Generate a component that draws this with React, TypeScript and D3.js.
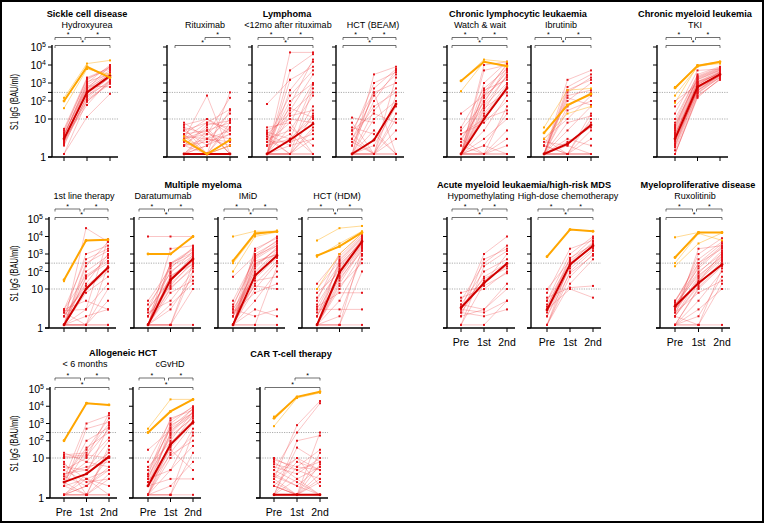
import React from 'react';
import * as d3 from 'd3';

type V = [number | null, number | null, number | null];

const L = 1.2; // below detection limit
const categories = ['Pre', '1st', '2nd'];
const yTickValues = [1, 10, 100, 300, 1000, 10000, 100000];
const thresholds = [10, 300];

// ---------- data (BAU/ml) ----------
const sickleRed: V[] = [[3,300,2500],[2.5,150,1500],[4,500,3000],[3.5,800,5000],[2,200,1200],[5,1500,8000],[2.8,400,3500],[3.2,250,2000],[L,100,900],[L,13,250],[4.5,1800,6000],[2.2,120,1000],[3,600,4000],[3.8,1000,10000],[2.6,350,2800],[5.5,2000,7000],[3.3,90,1200],[2.4,180,2200],[4,700,600],[3,60,1500],[2.9,450,9000],[3.6,1200,3000]];
const sickleOrange: V[] = [[150,12000,18000],[100,7000,2000],[40,6000,3000]];
const sickleMedian: V = [3,300,2500];
const sickleOrangeMedian: V = [100,8000,2000];

const rituxRed: V[] = [[L,L,L],[L,L,2],[2,L,L],[3,5,8],[5,8,6],[2,3,10],[L,2,30],[4,10,5],[8,3,2],[L,L,300],[3,200,L],[L,4,150],[3,L,L],[6,4,3],[2,2.5,4],[L,3,5],[4,L,2],[7,10,4],[2,6,L],[3,8,35],[L,L,3],[5,2,6],[2.5,L,8],[L,5,L],[3.5,3,2.5],[2,7,9],[6,L,L],[L,2,4],[4,5,L],[L,L,6],[3,4,20]];
const rituxOrange: V[] = [[2.8,L,2.8],[3.5,L,2]];
const rituxMedian: V = [L,L,L];
const rituxOrangeMedian: V = [2.8,L,2.8];

const lymphRed: V[] = [[L,50000,50000],[L,1500,8000],[68,1500,null],[L,400,15000],[3,200,5000],[L,30,3000],[2.5,8,1000],[L,L,500],[4,20,300],[3,5,200],[L,2,50],[L,L,20],[2,3,15],[5,10,8],[3.5,L,L],[L,L,3],[2,4,L],[4.5,3,10],[L,6,2],[3,L,5],[2.5,2.5,4],[L,15,30],[6,8,L],[L,L,L],[2,100,1000],[L,3,800],[3,40,12],[L,L,6],[4,2,3],[L,60,20000],[L,5000,40000]];
const lymphMedian: V = [L,2.8,7.4];

const beamRed: V[] = [[L,3000,8000],[L,500,6000],[2,100,5000],[12,8,null],[L,L,2000],[3,50,300],[5,300,1000],[L,10,100],[L,L,L],[4,L,3],[2.5,L,L],[6,4,L],[L,30,500],[3,200,3000],[L,2,50],[8,L,20],[L,L,10],[2,300,L],[L,5,L],[4,1000,4000],[L,L,5],[3,L,200],[5,20,8]];
const beamMedian: V = [L,2.8,68];

const wwRed: V[] = [[L,10,500],[L,L,L],[L,L,3],[L,300,10000],[L,1000,15000],[2,100,5000],[20,200,2000],[3,50,1000],[L,30,3000],[L,5,200],[5,80,8000],[L,2,20],[4,8,100],[L,L,2],[L,15,600],[3,L,L],[L,40,300],[2.5,200,12000],[L,L,50],[L,20,800],[6,500,6000],[L,3,10],[L,60,2500],[2,L,5],[L,150,4000],[L,10000,15000],[L,5000,10000],[L,2,L],[4,10,30],[L,400,1500]];
const wwOrange: V[] = [[1300,20000,15000],[350,15000,8000]];
const wwMedian: V = [L,10,520];
const wwOrangeMedian: V = [1300,15000,8800];

const ibruRed: V[] = [[L,L,L],[L,2,8],[L,300,2000],[L,1500,5000],[2,100,1000],[L,50,300],[3,10,200],[L,L,20],[L,5,50],[2.5,2,L],[L,L,3],[L,200,400],[L,30,100],[2,L,5],[L,3,2],[L,600,3000],[3,L,L],[L,8,15],[L,2.5,6],[L,400,1500],[2,L,10],[L,L,L],[L,150,60]];
const ibruOrange: V[] = [[4.3,60,245],[6,400,500],[3,20,50]];
const ibruMedian: V = [L,2.2,6.9];
const ibruOrangeMedian: V = [4.3,60,245];

const tkiRed: V[] = [[3,600,3000],[2,300,2500],[4,800,4000],[L,200,1500],[5,1500,5000],[2.5,400,2000],[3.5,1000,3500],[6,2000,6000],[1.5,250,2200],[8,3000,8000],[2,500,3000],[3,700,2800],[4.5,1200,4500],[L,150,1800],[2.8,350,3200],[10,2500,7000],[3.2,900,3800],[2.2,450,2600],[5.5,1800,5500],[20,5000,6000],[50,1200,3000],[100,800,4000],[3,550,2400],[1.8,280,2000],[4,650,3300],[7,1600,5200],[2.6,380,2700],[3.8,1100,4200],[L,180,1600],[6.5,2200,6500]];
const tkiOrange: V[] = [[530,9000,15000],[600,10000,15000],[80,9000,12000],[200,8000,14000]];
const tkiMedian: V = [3,600,3000];
const tkiOrangeMedian: V = [530,9000,15000];

const mm1Red: V[] = [[L,L,L],[L,30000,5000],[2,1000,3000],[3,500,2000],[L,100,800],[L,50,300],[2.5,10,100],[L,3,20],[L,L,10],[2,20,1000],[3,5,3],[L,200,5000],[L,2,3],[2.8,3,7000],[L,L,200],[L,8,50],[3,60,400],[L,L,5],[2,15,150],[L,300,1500],[2.5,L,L],[L,40,600]];
const mm1Orange: V[] = [[33,5900,6500],[28,null,null]];
const mm1Median: V = [L,10,170];
const mm1OrangeMedian: V = [33,5900,6500];

const daraRed: V[] = [[10000,10000,10000],[L,300,2000],[L,200,1000],[2,100,800],[L,50,500],[3,30,600],[L,20,300],[L,10,200],[2.5,5,100],[L,3,50],[L,L,10],[4,80,1500],[L,2000,3000],[L,300,1200],[2,15,400],[L,L,L],[L,8,30],[3,40,700],[L,L,100],[5,150,2500],[L,60,250],[2,25,900],[L,4,20],[L,L,300],[3,250,1800],[L,12,150]];
const daraOrange: V[] = [[1000,1000,10000]];
const daraMedian: V = [L,33,520];
const daraOrangeMedian: V = [1000,1000,10000];

const imidRed: V[] = [[L,1000,5000],[L,500,3000],[2,200,2000],[3,100,1500],[L,60,800],[2.5,40,600],[L,20,400],[L,10,300],[4,300,1000],[L,2000,8000],[2,1500,10000],[L,5,100],[L,3,2],[3,2,3],[L,L,200],[2,80,1200],[L,150,2500],[5,600,4000],[L,30,50],[2.5,8,20],[L,L,L],[3,50,700],[L,250,1800],[2,15,10],[L,400,900],[3.5,700,6000],[50,800,3000]];
const imidOrange: V[] = [[10000,20000,20000],[400,15000,20000],[300,12000,22000],[100,10000,18000]];
const imidMedian: V = [L,59,820];
const imidOrangeMedian: V = [400,15000,19000];

const hdmRed: V[] = [[L,100,5000],[L,500,10000],[2,300,8000],[3,200,6000],[L,50,3000],[5,1000,15000],[L,20,2000],[2.5,80,4000],[L,10,1000],[4,150,7000],[L,5,500],[L,L,100],[3,3,3],[10,400,9000],[L,30,2500],[2,60,3500],[L,L,L],[6,250,5000],[L,15,300],[3.5,8,8],[L,120,6000],[2,40,1500],[20,700,12000],[L,2,800],[8,90,4500],[L,L,2000]];
const hdmOrange: V[] = [[800,2700,17000],[5900,30000,40000],[700,4000,20000],[10,1000,15000]];
const hdmMedian: V = [L,90,5200];
const hdmOrangeMedian: V = [800,2700,17000];

const hmaRed: V[] = [[3,1000,10000],[2,500,2000],[5,300,3000],[L,200,1500],[4,100,500],[3,50,300],[2.5,30,200],[L,20,1000],[6,10,100],[2,3,10],[3,2.5,5],[2.5,2,3],[4,3,20],[L,L,5],[3.5,40,150],[8,15,80]];
const hmaMedian: V = [3.3,22,290];

const hdcRed: V[] = [[2,200,3000],[L,300,5000],[3,500,8000],[5,1000,10000],[2.5,150,2000],[L,100,1500],[8,2000,6000],[4,250,2500],[L,50,1000],[6,12,15],[3,10,6],[10,400,4000],[2,80,800],[L,20,500],[3.5,600,3500],[5,300,2500]];
const hdcOrange: V[] = [[700,25000,20000]];
const hdcMedian: V = [2.9,250,3000];
const hdcOrangeMedian: V = [700,25000,20000];

const ruxRed: V[] = [[3,30,500],[2,20,300],[4,100,1000],[L,10,200],[5,300,2000],[2.5,50,800],[3,200,3000],[L,5,100],[4.5,500,5000],[2,15,400],[3.5,80,1500],[L,L,L],[L,2,50],[3,1000,8000],[2,40,600],[L,3,10],[5,150,2500],[2.5,8,30],[L,L,150],[4,60,700],[3,25,1200],[2,2000,3000],[L,12,250],[3,300,4000],[2,L,20]];
const ruxOrange: V[] = [[630,17000,17000],[9000,17000,17000],[300,15000,6000],[200,4000,16000]];
const ruxMedian: V = [3.6,22,250];
const ruxOrangeMedian: V = [630,17000,17000];

const allo6Red: V[] = [[L,L,L],[2,3,5],[5,10,4000],[3,1000,3000],[15,20,1000],[10,12,500],[4,5,100],[2.5,L,50],[L,2,10],[20,8,6],[3,40,300],[L,3,L],[2,L,3],[6,5,20],[12,15,10],[L,4,800],[3.5,2,5],[8,L,L],[2,30,2000],[L,L,4],[4,6,8],[2.5,100,600],[L,L,30],[5,2.5,3],[3,8,150],[L,2,6],[2,500,1200],[7,3,2]];
const allo6Orange: V[] = [[100,15000,12000]];
const allo6Median: V = [2.5,4,12];
const allo6OrangeMedian: V = [100,15000,12000];

const gvhdRed: V[] = [[L,100,5000],[2,300,8000],[3,1000,10000],[L,50,3000],[4,2000,6000],[2.5,200,2000],[L,20,1000],[5,500,4000],[30,400,3000],[L,10,200],[3,5,50],[2,3,3],[L,L,L],[6,80,1500],[L,L,300],[2,30,5],[3.5,150,2500],[L,2,8],[4,600,7000],[L,5,500],[2.5,40,1200],[8,1500,9000],[L,L,20],[3,250,5000],[2,15,100],[L,800,4000]];
const gvhdOrange: V[] = [[300,5000,25000],[500,25000,25000]];
const gvhdMedian: V = [2,60,1200];
const gvhdOrangeMedian: V = [300,5000,25000];

const cartRed: V[] = [[L,L,L],[3,800,20000],[5,300,15000],[2,L,300],[L,100,200],[10,5,8],[4,2,6],[2,8,5],[6,4,10],[L,L,3],[3,10,2],[8,3,L],[2.5,L,4],[L,6,30],[5,2.5,L],[3,L,7],[L,L,L],[4,10,5],[2,L,2.5],[7,5,3],[L,3,6],[3.5,2,L],[2,L,20],[L,40,8],[9,6,5]];
const cartOrange: V[] = [[2500,35000,70000],[700,30000,60000]];
const cartMedian: V = [L,L,L];
const cartOrangeMedian: V = [2000,35000,70000];

// ---------- layout ----------
const rows = [
  { top: 47, y10: 119, y1: 157, titleY: 17, subY: 28, bS: 37.5, bL: 45.5 },
  { top: 219, y10: 289, y1: 328, titleY: 188, subY: 199, bS: 209, bL: 217.5 },
  { top: 389, y10: 458, y1: 498, titleY: 356, subY: 367, bS: 378, bL: 387.5 },
];

type Panel = {
  row: number; axisX: number; cx: [number, number]; sub: string; subX: number;
  red: V[]; orange: V[]; med: V; omed: V | null; full: boolean; xLab: boolean; yLab: boolean;
};

const panels: Panel[] = [
  { row: 0, axisX: 52, cx: [64, 110], sub: 'Hydroxyurea', subX: 87, red: sickleRed, orange: sickleOrange, med: sickleMedian, omed: sickleOrangeMedian, full: true, xLab: false, yLab: true },
  { row: 0, axisX: 167, cx: [184, 230], sub: 'Rituximab', subX: 205, red: rituxRed, orange: rituxOrange, med: rituxMedian, omed: rituxOrangeMedian, full: false, xLab: false, yLab: false },
  { row: 0, axisX: 252, cx: [267, 313], sub: '<12mo after rituximab', subX: 288, red: lymphRed, orange: [], med: lymphMedian, omed: null, full: true, xLab: false, yLab: false },
  { row: 0, axisX: 336, cx: [352, 396], sub: 'HCT (BEAM)', subX: 373, red: beamRed, orange: [], med: beamMedian, omed: null, full: true, xLab: false, yLab: false },
  { row: 0, axisX: 447, cx: [461, 507], sub: 'Watch & wait', subX: 480, red: wwRed, orange: wwOrange, med: wwMedian, omed: wwOrangeMedian, full: true, xLab: false, yLab: false },
  { row: 0, axisX: 531, cx: [544, 591], sub: 'Ibrutinib', subX: 561, red: ibruRed, orange: ibruOrange, med: ibruMedian, omed: ibruOrangeMedian, full: true, xLab: false, yLab: false },
  { row: 0, axisX: 657, cx: [675, 720], sub: 'TKI', subX: 695, red: tkiRed, orange: tkiOrange, med: tkiMedian, omed: tkiOrangeMedian, full: true, xLab: false, yLab: false },
  { row: 1, axisX: 49, cx: [64, 108], sub: '1st line therapy', subX: 84, red: mm1Red, orange: mm1Orange, med: mm1Median, omed: mm1OrangeMedian, full: true, xLab: false, yLab: true },
  { row: 1, axisX: 134, cx: [148, 193], sub: 'Daratumumab', subX: 163, red: daraRed, orange: daraOrange, med: daraMedian, omed: daraOrangeMedian, full: true, xLab: false, yLab: false },
  { row: 1, axisX: 218, cx: [233, 277], sub: 'IMiD', subX: 248, red: imidRed, orange: imidOrange, med: imidMedian, omed: imidOrangeMedian, full: true, xLab: false, yLab: false },
  { row: 1, axisX: 302, cx: [317, 362], sub: 'HCT (HDM)', subX: 337, red: hdmRed, orange: hdmOrange, med: hdmMedian, omed: hdmOrangeMedian, full: true, xLab: false, yLab: false },
  { row: 1, axisX: 447, cx: [461, 507], sub: 'Hypomethylating', subX: 481, red: hmaRed, orange: [], med: hmaMedian, omed: null, full: true, xLab: true, yLab: false },
  { row: 1, axisX: 531, cx: [547, 593], sub: 'High-dose chemotherapy', subX: 568, red: hdcRed, orange: hdcOrange, med: hdcMedian, omed: hdcOrangeMedian, full: true, xLab: true, yLab: false },
  { row: 1, axisX: 660, cx: [675, 722], sub: 'Ruxolitinib', subX: 695, red: ruxRed, orange: ruxOrange, med: ruxMedian, omed: ruxOrangeMedian, full: true, xLab: true, yLab: false },
  { row: 2, axisX: 50, cx: [64, 109], sub: '< 6 months', subX: 85, red: allo6Red, orange: allo6Orange, med: allo6Median, omed: allo6OrangeMedian, full: true, xLab: true, yLab: true },
  { row: 2, axisX: 133, cx: [148, 193], sub: 'cGvHD', subX: 170, red: gvhdRed, orange: gvhdOrange, med: gvhdMedian, omed: gvhdOrangeMedian, full: true, xLab: true, yLab: false },
  { row: 2, axisX: 260, cx: [274, 320], sub: '', subX: 297, red: cartRed, orange: cartOrange, med: cartMedian, omed: cartOrangeMedian, full: false, xLab: true, yLab: false },
];

const groupTitles = [
  { text: 'Sickle cell disease', row: 0, x: 87 },
  { text: 'Lymphoma', row: 0, x: 287 },
  { text: 'Chronic lymphocytic leukaemia', row: 0, x: 518 },
  { text: 'Chronic myeloid leukemia', row: 0, x: 695 },
  { text: 'Multiple myeloma', row: 1, x: 203 },
  { text: 'Acute myeloid leukaemia/high-risk MDS', row: 1, x: 524 },
  { text: 'Myeloproliferative disease', row: 1, x: 698 },
  { text: 'Allogeneic HCT', row: 2, x: 123 },
  { text: 'CAR T-cell therapy', row: 2, x: 291 },
];

const FONT = '"Liberation Sans", Arial, Helvetica, sans-serif';
const RED = '#e3141b';
const RED_LINE = '#ee3b3f';
const RED_MED = '#d10000';
const ORANGE = '#ffa600';

function tickLabel(v: number) {
  if (v === 1) return <tspan>1</tspan>;
  if (v === 10) return <tspan>10</tspan>;
  const e = Math.round(Math.log10(v));
  return (
    <>
      <tspan>10</tspan>
      <tspan fontSize={7} dy={-4.5}>{e}</tspan>
    </>
  );
}

function PanelView({ p }: { p: Panel }) {
  const r = rows[p.row];
  const y = d3.scaleLog().domain([1, 10, 100000]).range([r.y1, r.y10, r.top]);
  const x = d3.scalePoint<string>().domain(categories).range(p.cx);
  const line = d3
    .line<number | null>()
    .defined((d) => d != null)
    .x((_, i) => x(categories[i]) as number)
    .y((d) => y(d as number));
  const xEnd = p.cx[1] + 8;
  const pre = x('Pre') as number, first = x('1st') as number, second = x('2nd') as number;
  const labeledTicks = [1, 10, 100, 1000, 10000, 100000];
  return (
    <g>
      {thresholds.map((t) => (
        <line key={t} x1={p.axisX} x2={xEnd} y1={y(t)} y2={y(t)} stroke="#8a8a8a" strokeWidth={0.7} strokeDasharray="1.2,1.2" />
      ))}
      {p.red.map((d, i) => (
        <path key={'r' + i} d={line(d) || ''} fill="none" stroke={RED_LINE} strokeOpacity={0.5} strokeWidth={0.6} />
      ))}
      {p.red.map((d, i) =>
        d.map((v, j) =>
          v == null ? null : <rect key={'rp' + i + '-' + j} x={(x(categories[j]) as number) - 1} y={y(v) - 1} width={2} height={2} fill={RED} />
        )
      )}
      {p.orange.map((d, i) => (
        <path key={'o' + i} d={line(d) || ''} fill="none" stroke={ORANGE} strokeOpacity={0.6} strokeWidth={0.7} />
      ))}
      {p.orange.map((d, i) =>
        d.map((v, j) =>
          v == null ? null : <rect key={'op' + i + '-' + j} x={(x(categories[j]) as number) - 1} y={y(v) - 1} width={2} height={2} fill={ORANGE} />
        )
      )}
      <path d={line(p.med) || ''} fill="none" stroke={RED_MED} strokeWidth={2} />
      {p.med.map((v, j) => v == null ? null : <circle key={'m' + j} cx={x(categories[j]) as number} cy={y(v)} r={1.4} fill={RED_MED} />)}
      {p.omed && <path d={line(p.omed) || ''} fill="none" stroke={ORANGE} strokeWidth={2} />}
      {p.omed && p.omed.map((v, j) => v == null ? null : <circle key={'om' + j} cx={x(categories[j]) as number} cy={y(v)} r={1.4} fill={ORANGE} />)}
      <line x1={p.axisX} x2={p.axisX} y1={r.top - 2} y2={r.y1} stroke="#000" strokeWidth={1.4} />
      <line x1={p.axisX - 4} x2={xEnd} y1={r.y1} y2={r.y1} stroke="#000" strokeWidth={1.4} />
      {yTickValues.map((t) => (
        <line key={'yt' + t} x1={p.axisX - 4} x2={p.axisX} y1={y(t)} y2={y(t)} stroke="#000" strokeWidth={1} />
      ))}
      {categories.map((c) => (
        <line key={'xt' + c} x1={x(c) as number} x2={x(c) as number} y1={r.y1} y2={r.y1 + 4} stroke="#000" strokeWidth={1} />
      ))}
      {p.yLab && labeledTicks.map((t) => (
        <text key={'yl' + t} x={p.axisX - 6} y={y(t) + 4} textAnchor="end" fontSize={10.5} fontFamily={FONT}>{tickLabel(t)}</text>
      ))}
      {p.yLab && (
        <text transform={`translate(18,${(r.top + r.y1) / 2}) rotate(-90)`} textAnchor="middle" fontSize={11} fontFamily={FONT} textLength={56} lengthAdjust="spacingAndGlyphs">S1 IgG (BAU/ml)</text>
      )}
      {p.xLab && categories.map((c) => (
        <text key={'xl' + c} x={x(c) as number} y={r.y1 + 17.5} textAnchor="middle" fontSize={10.5} fontFamily={FONT}>{c}</text>
      ))}
      {p.full && (
        <g>
          <path d={`M${pre - 9},${r.bS + 2.5}V${r.bS}H${first - 6}V${r.bS + 2.5}`} fill="none" stroke="#333" strokeWidth={0.7} />
          <text x={(pre - 9 + first - 6) / 2} y={r.bS - 0.5} textAnchor="middle" fontSize={7} fontFamily={FONT}>*</text>
        </g>
      )}
      <path d={`M${first - 2},${r.bS + 2.5}V${r.bS}H${second}V${r.bS + 2.5}`} fill="none" stroke="#333" strokeWidth={0.7} />
      <text x={(first - 2 + second) / 2} y={r.bS - 0.5} textAnchor="middle" fontSize={7} fontFamily={FONT}>*</text>
      <path d={`M${pre - 9},${r.bL + 2.5}V${r.bL}H${second}V${r.bL + 2.5}`} fill="none" stroke="#333" strokeWidth={0.7} />
      <text x={(pre - 9 + second) / 2} y={r.bL - 0.5} textAnchor="middle" fontSize={7} fontFamily={FONT}>*</text>
      {p.sub && (
        <text x={p.subX} y={r.subY} textAnchor="middle" fontSize={9} fontFamily={FONT}>{p.sub}</text>
      )}
    </g>
  );
}

export default function App() {
  return (
    <svg width={765} height={524} style={{ position: 'absolute', left: 0, top: 0, background: '#fff' }}>
      <rect x={0} y={0} width={765} height={524} fill="#fff" />
      {panels.map((p, i) => <PanelView key={i} p={p} />)}
      {groupTitles.map((g) => (
        <text key={g.text} x={g.x} y={rows[g.row].titleY + (g.text === 'CAR T-cell therapy' ? 1 : 0)} textAnchor="middle" fontSize={9.2} fontWeight="bold" fontFamily={FONT}>{g.text}</text>
      ))}
      <rect x={1} y={1} width={762} height={521} fill="none" stroke="#000" strokeWidth={2} />
    </svg>
  );
}
